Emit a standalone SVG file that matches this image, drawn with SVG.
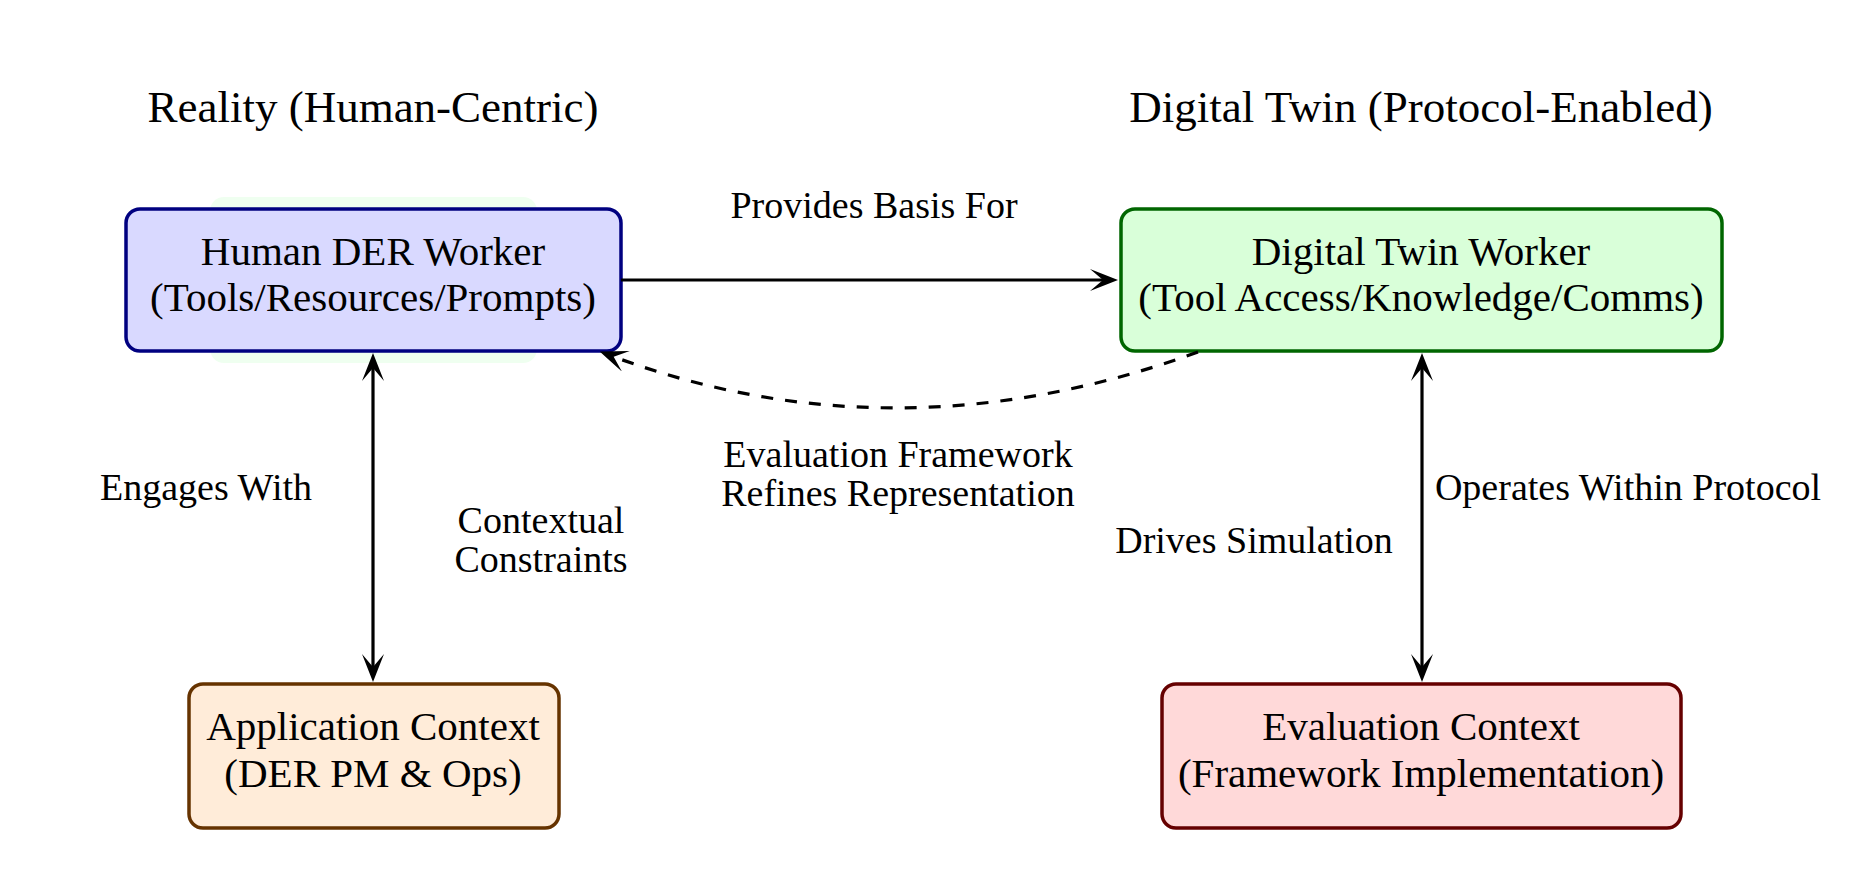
<svg xmlns="http://www.w3.org/2000/svg" width="1875" height="871" viewBox="0 0 1875 871">
<style>
text{font-family:"Liberation Serif","Times New Roman",serif;fill:#000;text-anchor:middle}
.title{font-size:45px}
.nt{font-size:41px}
.lb{font-size:38px}
.box{stroke-width:3.5}
.edge{fill:none;stroke:#000;stroke-width:3.2}
.dash{stroke-dasharray:12 12}
</style>
<defs>
<marker id="ah" markerUnits="userSpaceOnUse" viewBox="0 0 28 22" markerWidth="28" markerHeight="22" refX="18" refY="11" orient="auto-start-reverse">
<path d="M28,11 L0,0 L13,11 L0,22 Z" fill="#000"/>
</marker>
</defs>
<rect width="1875" height="871" fill="#fff"/>
<text class="title" x="373" y="122">Reality (Human-Centric)</text>
<text class="title" x="1421" y="122">Digital Twin (Protocol-Enabled)</text>
<g id="human">
<rect x="210" y="197" width="327" height="166" rx="14" fill="#effff0"/>
<rect class="box" x="126" y="209" width="495" height="142" rx="14" fill="#d9d9ff" stroke="#000080"/>
<text class="nt" x="373" y="265">Human DER Worker</text>
<text class="nt" x="373" y="311">(Tools/Resources/Prompts)</text>
</g>
<g id="twin">
<rect class="box" x="1121" y="209" width="601" height="142" rx="14" fill="#d9ffd9" stroke="#006600"/>
<text class="nt" x="1421" y="265">Digital Twin Worker</text>
<text class="nt" x="1421" y="311">(Tool Access/Knowledge/Comms)</text>
</g>
<g id="app">
<rect class="box" x="189" y="684" width="370" height="144" rx="14" fill="#ffecd9" stroke="#663300"/>
<text class="nt" x="373" y="740">Application Context</text>
<text class="nt" x="373" y="787">(DER PM &amp; Ops)</text>
</g>
<g id="eval">
<rect class="box" x="1162" y="684" width="519" height="144" rx="14" fill="#ffd9d9" stroke="#660000"/>
<text class="nt" x="1421" y="740">Evaluation Context</text>
<text class="nt" x="1421" y="787">(Framework Implementation)</text>
</g>
<g id="connectors">
<path class="edge" d="M621,280 L1108,280" marker-end="url(#ah)"/>
<path class="edge" d="M373,363 L373,672" marker-start="url(#ah)" marker-end="url(#ah)"/>
<path class="edge" d="M1422,363 L1422,672" marker-start="url(#ah)" marker-end="url(#ah)"/>
<path class="edge dash" d="M1198,352 C998,425 800,427 609,355" marker-end="url(#ah)"/>
<text class="lb" x="874" y="218">Provides Basis For</text>
<text class="lb" x="206" y="500">Engages With</text>
<text class="lb" x="541" y="533">Contextual</text>
<text class="lb" x="541" y="572">Constraints</text>
<text class="lb" x="898" y="467">Evaluation Framework</text>
<text class="lb" x="898" y="506">Refines Representation</text>
<text class="lb" x="1628" y="500">Operates Within Protocol</text>
<text class="lb" x="1254" y="553">Drives Simulation</text>
</g>
</svg>
